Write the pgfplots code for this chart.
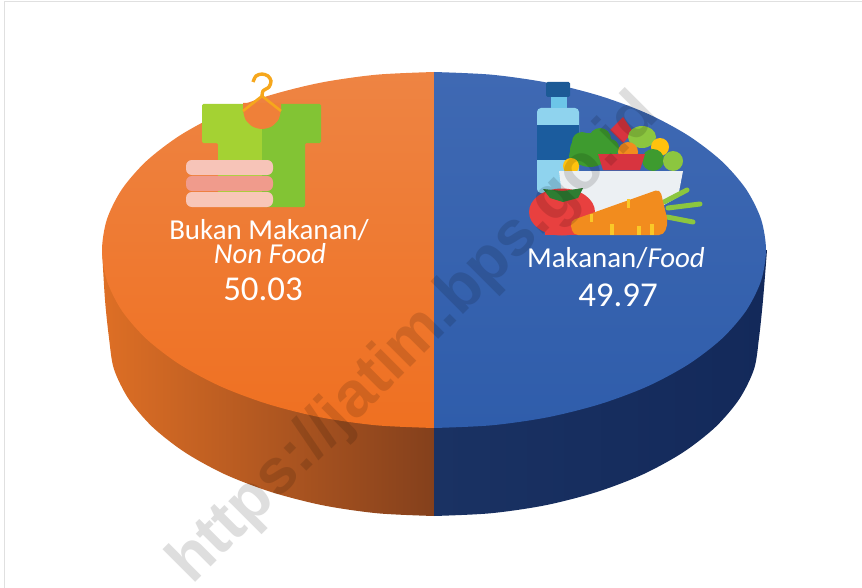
\documentclass[border=0pt]{standalone}
\usepackage{pgfplots}
\pgfplotsset{compat=1.18}
\usepackage{fontspec}
\setmainfont{Carlito}
\newfontfamily\wm{Liberation Sans}
\definecolor{topOA}{HTML}{EE8443}
\definecolor{topOM}{HTML}{EF7A30}
\definecolor{topOB}{HTML}{EF7021}
\definecolor{topBA}{HTML}{3F69B3}
\definecolor{topBB}{HTML}{2F5DAB}
\definecolor{sideOA}{HTML}{DE6F25}
\definecolor{sideOB}{HTML}{B55C24}
\definecolor{sideOC}{HTML}{84401C}
\definecolor{sideBA}{HTML}{1A3263}
\definecolor{sideBB}{HTML}{13295A}
\definecolor{bro}{RGB}{62,155,47}
\definecolor{lgr}{RGB}{140,198,63}
\definecolor{han}{RGB}{246,167,28}
\definecolor{lab}{RGB}{250,200,40}
\definecolor{red1}{RGB}{216,52,63}
\definecolor{car}{RGB}{242,140,30}
\definecolor{dbl}{RGB}{27,92,158}
\begin{document}
\begin{tikzpicture}
\begin{axis}[
  scale only axis, width=862bp, height=588bp,
  xmin=0, xmax=862, ymin=0, ymax=588, y dir=reverse,
  axis lines=none, enlargelimits=false, no markers, clip=true]
\path (0,0) -- (862,588);
\addplot[draw=none,forget plot] coordinates {(0,0) (862,588)};
% frame
\addplot[draw=black!12, line width=1pt] coordinates {(4,588) (4,2) (862,2)};
% side, Bukan Makanan
\addplot[draw=none, smooth, left color=sideOA, middle color=sideOB, right color=sideOC]
  coordinates {(102,250) (105,300) (109,338) (113.9,368.9) (128.6,398.9) (152.5,427) (185,452.4) (225.1,474.4) (271.5,492.1) (322.8,505.3) (377.6,513.3) (434,516)}
  -- (axis cs:434,250) -- cycle;
% side, Makanan
\addplot[draw=none, smooth, left color=sideBA, right color=sideBB]
  coordinates {(767,250) (763,300) (759,338) (754.1,368.9) (739.4,398.9) (715.5,427) (683,452.4) (642.9,474.4) (596.5,492.1) (545.2,505.3) (490.4,513.3) (434,516)}
  -- (axis cs:434,250) -- cycle;
% top, Bukan Makanan
\addplot[draw=none, smooth, top color=topOA, middle color=topOM, bottom color=topOB]
  coordinates {(434,72) (376.4,74.7) (320.5,82.7) (268,95.9) (220.6,113.6) (179.7,135.6) (146.5,161) (122,189.1) (107,219.1) (102,250) (107,280.9) (122,310.9) (146.5,339) (179.7,364.4) (220.6,386.4) (268,404.1) (320.5,417.3) (376.4,425.3) (434,428)}
  -- cycle;
% top, Makanan
\addplot[draw=none, smooth, top color=topBA, bottom color=topBB]
  coordinates {(434,72) (491.6,74.7) (547.5,82.7) (600,95.9) (647.4,113.6) (688.3,135.6) (721.5,161) (746,189.1) (761,219.1) (766,250) (761,280.9) (746,310.9) (721.5,339) (688.3,364.4) (647.4,386.4) (600,404.1) (547.5,417.3) (491.6,425.3) (434,428)}
  -- cycle;
% clothes icon
\fill[color={rgb,255:red,164;green,210;blue,51},rounded corners=1.5pt] (202,104)--(262,104)--(262,207)--(218,207)--(218,143)--(202,143)--cycle;
\fill[color={rgb,255:red,130;green,196;blue,52},rounded corners=1.5pt] (262,104)--(321,104)--(321,143)--(305,143)--(305,207)--(262,207)--cycle;
\fill[color={rgb,255:red,239;green,128;blue,57}] plot[smooth] coordinates {(243,110) (245.5,119.5) (252.5,126.5) (262,129) (271.5,126.5) (278.5,119.5) (281,110)} -- (281,103) -- (243,103) -- cycle;
\draw[han,line width=2.6pt] (243,111)--(262,96)--(281,111);
\draw[han,line width=3.4pt] plot[smooth] coordinates {(262,97) (263,91) (269,87) (271,81) (268,76) (262,74) (256,76) (253,82)};
\fill[color={rgb,255:red,247;green,196;blue,184},rounded corners=6pt] (186,160) rectangle (273,175);
\fill[color={rgb,255:red,240;green,155;blue,140},rounded corners=6pt] (186,176) rectangle (273,191);
\fill[color={rgb,255:red,248;green,198;blue,184},rounded corners=6pt] (186,192) rectangle (273,207);
% food icon
\fill[color={rgb,255:red,143;green,211;blue,238},rounded corners=4pt] (537,193)--(537,108)--(579,108)--(579,193)--cycle;
\fill[dbl] (537,125) rectangle (579,160);
\fill[color={rgb,255:red,108;green,197;blue,232}] (551,97) rectangle (567,108);
\fill[color={rgb,255:red,28;green,90;blue,150},rounded corners=1.5pt] (546,82) rectangle (570,97);
\fill[bro] (590,150) ellipse[x radius=20,y radius=17];
\fill[bro] (582,142) circle[radius=10];
\fill[bro] (600,139) circle[radius=11];
\fill[bro] (610,148) circle[radius=9];
\fill[bro] (578,156) circle[radius=9];
\fill[red1] (610,130)--(623,117)--(633,132)--(623,143)--cycle;
\fill[lgr] (642,137) ellipse[x radius=14,y radius=11];
\fill[color={rgb,255:red,255;green,194;blue,14}] (660,147) circle[radius=9];
\fill[car] (628,152) circle[radius=10];
\fill[bro] (653,160) circle[radius=11];
\fill[lgr] (673,161) circle[radius=10];
\fill[color={rgb,255:red,255;green,194;blue,14}] (571,166) circle[radius=8];
\fill[red1] (598,154)--(645,154)--(640,170)--(603,170)--cycle;
\fill[color={rgb,255:red,236;green,240;blue,243}] (559,171)--(683,171)--(678,197)--(620,230)--(585,215)--(562,195)--cycle;
\draw[lgr,line width=5pt,line cap=round] (664,202)--(687,190);
\draw[lgr,line width=5pt,line cap=round] (668,208)--(700,204);
\draw[lgr,line width=5pt,line cap=round] (667,217)--(693,222);
\fill[color={rgb,255:red,232;green,64;blue,63}] (562,212) ellipse[x radius=33,y radius=23.5];
\fill[color={rgb,255:red,232;green,64;blue,63}] (545,228) rectangle (585,235);
\fill[color={rgb,255:red,46;green,125;blue,50}] (543,189)--(563,191)--(583,188)--(578,198)--(563,202)--(550,198)--cycle;
\fill[car,rounded corners=5pt] (570,221)--(660,189)--(668,222)--(664,235)--(573,235)--cycle;
\fill[lab] (627,199) rectangle (630,208);
\fill[lab] (590,214) rectangle (593,222);
\fill[lab] (610,224) rectangle (614,235);
\fill[lab] (637,226) rectangle (641,235);
\fill[lab] (650,224) rectangle (654,235);
% labels
\node[white,font=\fontsize{29}{29}\selectfont,anchor=center] at (269,230) {Bukan Makanan/};
\node[white,font=\fontsize{29}{29}\selectfont\itshape,anchor=center] at (270,254) {Non Food};
\node[white,font=\fontsize{35}{35}\selectfont,anchor=center] at (263,289) {50.03};
\node[white,font=\fontsize{29}{29}\selectfont,anchor=center] at (616,258) {Makanan/\textit{Food}};
\node[white,font=\fontsize{35}{35}\selectfont,anchor=center] at (618,295) {49.97};
% watermark
\node[black,opacity=0.13,rotate=45,font=\wm\bfseries\fontsize{64}{64}\selectfont,anchor=center] at (415,340) {https://jatim.bps.go.id};
\end{axis}
\end{tikzpicture}
\end{document}
